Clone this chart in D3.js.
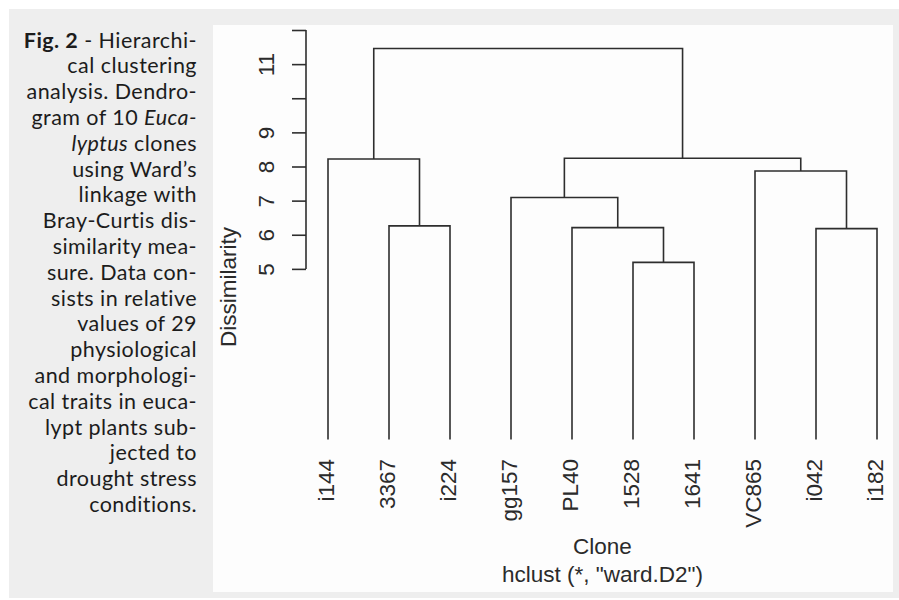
<!DOCTYPE html>
<html lang="en">
<head>
<meta charset="utf-8">
<script src="https://cdn.jsdelivr.net/npm/d3@7"></script>
<style>
  body { margin: 0; background: #fff; }
  svg { display: block; }
  .cap { font-family: Lato, "Open Sans", sans-serif; font-size: 21.5px; letter-spacing: 0.45px; fill: #1c1c1c; }
  .rtxt { font-family: "Liberation Sans", Arial, sans-serif; font-size: 22.5px; fill: #2b2b2b; }
</style>
</head>
<body>
<script>
// leaves in plotting order
var leafLabels = ["i144", "3367", "i224", "gg157", "PL40", "1528", "1641", "VC865", "i042", "i182"];
// hclust-style merges: strings are leaves, numbers refer to earlier merge steps (1-based)
var mergeLeft = ["1528", "i042", "PL40", "3367", "gg157", "VC865", "i144", 5, 7];
var mergeRight = ["1641", "i182", 1, "i224", 3, 2, 4, 6, 8];
var mergeHeight = [5.19, 6.18, 6.21, 6.26, 7.09, 7.87, 8.22, 8.24, 11.46];
var yTicks = [5, 6, 7, 8, 9, 10, 11, 12];
var yTickLabels = ["5", "6", "7", "8", "9", "", "11", ""];

var captionLines = [
  [["Fig. 2", "b"], [" - Hierarchi-", ""]],
  [["cal clustering", ""]],
  [["analysis. Dendro-", ""]],
  [["gram of 10 ", ""], ["Euca-", "i"]],
  [["lyptus", "i"], [" clones", ""]],
  [["using Ward\u2019s", ""]],
  [["linkage with", ""]],
  [["Bray-Curtis dis-", ""]],
  [["similarity mea-", ""]],
  [["sure. Data con-", ""]],
  [["sists in relative", ""]],
  [["values of 29", ""]],
  [["physiological", ""]],
  [["and morphologi-", ""]],
  [["cal traits in euca-", ""]],
  [["lypt plants sub-", ""]],
  [["jected to", ""]],
  [["drought stress", ""]],
  [["conditions.", ""]]
];

var W = 899, H = 600;
var svg = d3.select("body").append("svg")
    .attr("width", W)
    .attr("height", H);

// frame backgrounds
svg.append("rect").attr("x", 9).attr("y", 9).attr("width", 890).attr("height", 589).attr("fill", "#eeeeee");
svg.append("rect").attr("x", 213).attr("y", 25).attr("width", 680).attr("height", 567).attr("fill", "#fdfdfd");

// caption, one text per line
var cap = svg.append("g")
    .attr("class", "cap")
    .attr("text-anchor", "end");
captionLines.forEach(function(line, i) {
  var row = cap.append("text")
      .attr("x", 197)
      .attr("y", 47.5 + i * 25.8);
  line.forEach(function(seg) {
    var t = row.append("tspan").text(seg[0]);
    if (seg[1] == "b") t.attr("font-weight", "bold");
    if (seg[1] == "i") t.attr("font-style", "italic");
  });
});

// scales
var x = d3.scalePoint()
    .domain(leafLabels)
    .range([328, 877]);
var y = d3.scaleLinear()
    .domain([0, 12])
    .range([439.5, 30]);

// build node positions from the merge table
var nodeX = [], nodeH = [];
function pos(ref) {
  if (typeof ref === "string") return { x: x(ref), h: 0 };
  return { x: nodeX[ref - 1], h: nodeH[ref - 1] };
}
var links = [];
mergeHeight.forEach(function(h, i) {
  var a = pos(mergeLeft[i]), b = pos(mergeRight[i]);
  nodeX.push((a.x + b.x) / 2);
  nodeH.push(h);
  links.push({ a: a, b: b, h: h });
});

svg.append("g")
  .selectAll("path")
  .data(links)
  .enter()
  .append("path")
    .attr("d", function(d) {
      return "M" + d.a.x + "," + y(d.a.h) + "V" + y(d.h) + "H" + d.b.x + "V" + y(d.b.h);
    })
    .attr("fill", "none")
    .attr("stroke", "#2e2e2e")
    .attr("stroke-width", 1.6);

// y axis, R style
var yAxis = svg.append("g")
    .attr("transform", "translate(306,0)")
    .call(d3.axisLeft(y).tickValues(yTicks).tickSize(14).tickFormat(function(d, i) { return yTickLabels[i]; }));
yAxis.select(".domain").remove();
yAxis.selectAll("line").attr("stroke", "#2e2e2e").attr("stroke-width", 1.6);
yAxis.selectAll("text")
    .attr("class", "rtxt")
    .attr("x", null)
    .attr("dy", null)
    .attr("fill", null)
    .attr("font-size", null)
    .attr("font-family", null)
    .attr("text-anchor", "middle")
    .attr("transform", "translate(-32,0) rotate(-90)");
yAxis.append("line")
    .attr("y1", y(yTicks[0]))
    .attr("y2", y(yTicks[yTicks.length - 1]))
    .attr("stroke", "#2e2e2e")
    .attr("stroke-width", 1.6);

// leaf labels
svg.append("g")
  .selectAll("text")
  .data(leafLabels)
  .enter()
  .append("text")
    .attr("class", "rtxt")
    .attr("text-anchor", "end")
    .attr("transform", function(d) { return "translate(" + (x(d) + 5.5) + ",459) rotate(-90)"; })
    .text(function(d) { return d; });

// titles
svg.append("text")
    .attr("class", "rtxt")
    .attr("text-anchor", "middle")
    .attr("transform", "translate(236,287) rotate(-90)")
    .text("Dissimilarity");
svg.append("text")
    .attr("class", "rtxt")
    .attr("text-anchor", "middle")
    .attr("x", 602.5)
    .attr("y", 554.3)
    .text("Clone");
svg.append("text")
    .attr("class", "rtxt")
    .attr("text-anchor", "middle")
    .attr("x", 602.5)
    .attr("y", 581.7)
    .text("hclust (*, \"ward.D2\")");
</script>
</body>
</html>
